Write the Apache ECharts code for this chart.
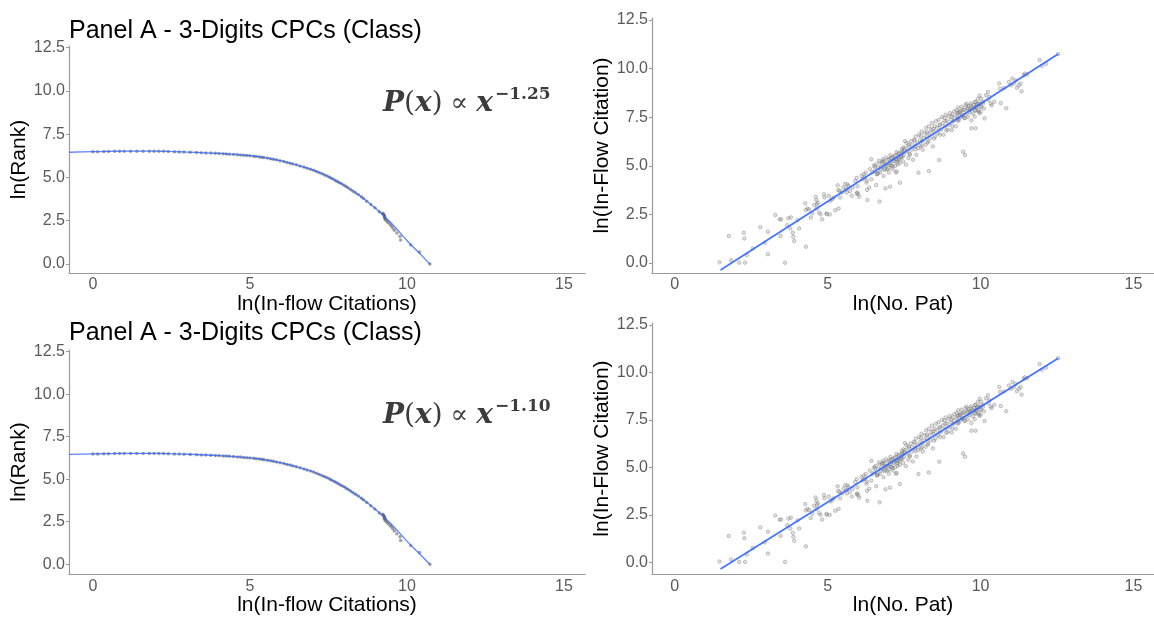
<!DOCTYPE html>
<html>
<head>
<meta charset="utf-8">
<title>Rank-size and in-flow citation panels</title>
<script src="https://cdn.jsdelivr.net/npm/echarts@6.0.0/dist/echarts.min.js"></script>
<style>
  html, body { margin: 0; padding: 0; background: #ffffff; }
  #chart { width: 1154px; height: 617px; }
</style>
</head>
<body>
<div id="chart"></div>
<script>
// ---- tick labels ----
const xTicks = [0, 5, 10, 15];
const yTicks = [0, 2.5, 5, 7.5, 10, 12.5];

// ---- panel titles, axis titles, exponents ----
const panelTitle = 'Panel A - 3-Digits CPCs (Class)';
const rankXTitle = 'ln(In-flow Citations)';
const rankYTitle = 'ln(Rank)';
const patXTitle = 'ln(No. Pat)';
const patYTitle = 'ln(In-Flow Citation)';
const exponents = ['−1.25', '−1.10'];

// ---- rank-size: smoothed fit, ln(in-flow citations) -> ln(rank) ----
const rankFitX = [-0.76, 0, 1, 2, 3, 4, 5, 5.5, 6, 6.5, 7, 7.5, 8, 8.5, 9, 9.5, 10, 10.4, 10.73];
const rankFitY = [6.46, 6.49, 6.52, 6.52, 6.47, 6.39, 6.26, 6.14, 5.96, 5.72, 5.44, 5.05, 4.55, 3.95, 3.22, 2.37, 1.36, 0.62, 0.0];

// ---- rank-size: observed classes [ln(in-flow citations), ln(rank)] ----
const rankPoints = [
  [10.73, 0.00], [10.40, 0.69], [10.12, 1.10], [9.80, 1.39], [9.78, 1.61], [9.68, 1.79],
  [9.60, 1.95], [9.55, 2.08], [9.50, 2.20], [9.46, 2.30], [9.40, 2.40], [9.36, 2.48],
  [9.31, 2.56], [9.30, 2.64], [9.28, 2.71], [9.29, 2.77], [9.27, 2.83], [9.25, 2.89],
  [9.22, 2.94], [9.12, 3.02], [8.98, 3.25], [8.85, 3.44], [8.72, 3.63], [8.62, 3.78],
  [8.55, 3.88], [8.45, 4.01], [8.36, 4.12], [8.28, 4.21], [8.20, 4.31], [8.12, 4.41],
  [8.05, 4.49], [7.98, 4.57], [7.90, 4.65], [7.83, 4.72], [7.76, 4.79], [7.69, 4.86],
  [7.61, 4.94], [7.54, 5.01], [7.46, 5.08], [7.38, 5.14], [7.30, 5.21], [7.21, 5.28],
  [7.12, 5.35], [7.03, 5.42], [6.93, 5.48], [6.82, 5.54], [6.72, 5.60], [6.60, 5.67],
  [6.48, 5.73], [6.37, 5.78], [6.28, 5.83], [6.18, 5.87], [6.08, 5.92], [5.96, 5.97],
  [5.85, 6.02], [5.75, 6.06], [5.66, 6.09], [5.56, 6.12], [5.45, 6.15], [5.38, 6.17],
  [5.30, 6.19], [5.20, 6.21], [5.12, 6.23], [5.00, 6.25], [4.90, 6.27], [4.80, 6.28],
  [4.70, 6.30], [4.60, 6.31], [4.48, 6.33], [4.35, 6.35], [4.25, 6.36], [4.15, 6.37],
  [4.02, 6.39], [3.90, 6.40], [3.76, 6.41], [3.60, 6.42], [3.45, 6.43], [3.30, 6.44],
  [3.10, 6.46], [2.90, 6.47], [2.75, 6.48], [2.60, 6.49], [2.40, 6.50], [2.25, 6.51],
  [2.10, 6.52], [1.95, 6.52], [1.80, 6.52], [1.60, 6.52], [1.40, 6.52], [1.20, 6.52],
  [1.00, 6.52], [0.85, 6.51], [0.69, 6.51], [0.50, 6.50], [0.35, 6.50], [0.15, 6.49],
  [0.00, 6.49]
];

// ---- patents vs in-flow citations: linear fit end points ----
const patFitX = [1.5, 12.54];
const patFitY = [-0.35, 10.75];

// ---- patents vs in-flow citations: classes [ln(no. pat), ln(in-flow citation)] ----
const patentPoints = [
  [1.47, 0.04], [1.77, 1.39], [1.85, 0.15], [2.11, 0.02], [2.30, 0.02], [2.26, 1.56],
  [2.28, 1.27], [2.36, 0.41], [2.55, 0.75], [2.80, 1.84], [2.95, 1.05], [3.05, 1.61],
  [3.05, 0.46], [3.29, 2.47], [3.43, 2.25], [3.48, 2.25], [3.46, 1.39], [3.61, 0.02],
  [3.68, 1.95], [3.72, 2.30], [3.80, 2.35], [3.78, 1.78], [3.86, 1.56], [3.88, 1.35],
  [3.91, 1.13], [4.02, 2.21], [4.07, 1.78], [4.27, 3.07], [4.29, 0.84], [4.29, 2.73],
  [4.34, 2.81], [4.40, 2.76], [4.56, 2.98], [4.61, 3.41], [4.63, 3.24], [4.64, 2.81],
  [4.45, 2.34], [4.50, 2.56], [4.66, 3.03], [4.68, 3.11], [4.72, 2.60], [4.77, 2.50],
  [4.82, 2.25], [4.88, 3.54], [4.90, 3.37], [4.96, 2.55], [4.98, 2.51], [5.04, 3.46],
  [5.07, 2.50], [5.09, 3.20], [5.14, 3.28], [5.20, 3.37], [5.25, 2.72], [5.33, 4.00],
  [5.36, 2.81], [5.39, 3.71], [5.41, 3.37], [5.47, 3.63], [5.52, 3.88], [5.57, 4.06],
  [5.61, 3.80], [5.63, 3.63], [5.68, 3.97], [5.73, 3.71], [5.79, 3.46], [5.82, 3.88],
  [5.90, 4.23], [5.95, 3.58], [5.97, 3.63], [6.00, 3.54], [6.03, 3.41], [6.11, 4.48],
  [6.14, 4.31], [6.18, 4.57], [6.22, 4.40], [6.27, 4.14], [6.29, 3.76], [6.30, 3.24],
  [6.36, 3.88], [6.38, 4.83], [6.43, 5.34], [6.43, 4.31], [6.46, 4.66], [6.51, 5.00],
  [6.54, 4.74], [6.57, 5.08], [6.59, 4.01], [6.61, 4.57], [6.65, 4.91], [6.68, 5.26],
  [6.70, 3.16], [6.72, 4.66], [6.75, 4.83], [6.78, 5.17], [6.81, 5.34], [6.83, 4.48],
  [6.86, 5.00], [6.89, 3.84], [6.91, 5.43], [6.95, 4.83], [6.97, 5.08], [7.00, 4.66],
  [7.02, 5.34], [7.04, 3.93], [7.07, 5.03], [7.11, 5.43], [7.13, 4.83], [7.15, 5.26],
  [7.18, 5.51], [7.21, 5.00], [7.23, 4.66], [7.26, 5.34], [7.29, 5.08], [7.32, 5.60],
  [7.34, 5.34], [7.40, 5.43], [7.43, 5.86], [7.45, 5.68], [7.50, 5.77], [7.53, 6.28],
  [6.65, 4.63], [6.70, 5.14], [6.75, 4.94], [6.81, 5.23], [6.86, 4.80], [6.91, 5.06],
  [6.97, 5.31], [7.00, 4.88], [7.04, 5.14], [7.07, 5.40], [7.13, 4.97], [7.18, 5.23],
  [7.21, 5.52], [7.26, 4.71], [7.29, 5.31], [7.32, 5.66], [7.36, 5.14], [7.40, 5.45],
  [7.43, 5.74], [7.47, 5.23], [7.50, 5.57], [7.54, 5.91], [7.56, 5.06], [7.58, 6.17],
  [7.61, 5.74], [7.64, 5.40], [7.66, 6.00], [7.69, 5.57], [7.72, 6.26], [7.75, 5.83],
  [7.77, 6.08], [7.79, 5.31], [7.82, 6.34], [7.86, 6.00], [7.88, 6.51], [7.90, 5.57],
  [7.93, 6.17], [7.96, 5.91], [7.99, 6.60], [8.02, 6.34], [8.04, 6.00], [8.07, 6.77],
  [8.09, 6.26], [8.11, 5.83], [8.15, 6.43], [8.18, 6.69], [8.20, 6.08], [8.22, 6.94],
  [8.25, 6.51], [8.29, 6.26], [8.31, 7.03], [8.33, 6.69], [8.36, 6.43], [8.39, 6.86],
  [8.41, 7.20], [8.44, 6.00], [8.47, 6.77], [8.50, 7.03], [8.52, 6.51], [8.54, 7.29],
  [8.58, 6.94], [8.61, 6.69], [8.63, 7.37], [8.65, 5.30], [8.68, 7.11], [8.71, 6.86],
  [8.74, 7.51], [8.76, 7.20], [8.79, 6.60], [8.82, 7.46], [8.84, 7.03], [8.86, 7.63],
  [8.90, 7.29], [8.93, 6.86], [8.95, 7.54], [8.97, 7.11], [9.00, 7.71], [9.04, 7.37],
  [9.06, 6.84], [9.08, 7.63], [9.11, 7.29], [9.14, 7.80], [9.16, 7.46], [9.19, 7.03],
  [9.22, 7.86], [9.25, 7.69], [9.27, 8.00], [9.29, 7.35], [9.33, 7.78], [9.36, 7.52],
  [9.38, 8.04], [9.40, 7.61], [9.43, 5.73], [9.46, 7.86], [9.49, 5.56], [9.51, 8.12],
  [9.54, 7.69], [9.57, 7.95], [9.59, 7.52], [9.61, 8.07], [9.65, 7.86], [9.68, 8.21],
  [9.70, 6.93], [9.72, 7.95], [9.75, 7.69], [9.79, 8.12], [9.81, 7.86], [9.81, 7.53],
  [9.83, 8.29], [9.86, 8.00], [9.89, 8.17], [9.91, 7.86], [9.94, 7.78], [9.97, 8.21],
  [9.97, 7.70], [10.00, 7.78], [10.02, 8.04], [10.08, 8.29], [10.11, 7.95],
  [9.22, 7.58], [9.27, 7.41], [9.32, 7.76], [9.38, 7.84], [9.43, 7.58], [9.49, 7.46],
  [9.54, 8.19], [9.59, 7.93], [9.65, 7.76], [9.68, 8.10], [9.70, 7.33], [9.75, 8.01],
  [9.81, 8.27], [9.83, 7.84], [9.86, 8.05], [9.91, 8.44], [9.94, 8.19], [9.97, 8.61],
  [10.00, 8.03], [10.02, 8.46], [10.08, 8.20], [10.13, 7.44], [10.18, 8.63], [10.24, 8.80],
  [10.26, 8.37], [10.29, 8.54], [10.34, 8.20], [10.36, 8.11], [10.45, 8.29], [10.61, 9.23],
  [10.64, 8.97], [10.66, 8.23], [10.77, 9.00], [10.84, 7.96], [10.93, 9.31], [10.99, 9.14],
  [11.04, 9.49], [11.09, 9.23], [11.15, 9.40], [11.19, 9.01], [11.25, 9.14], [11.31, 9.23],
  [11.34, 8.83], [11.41, 9.66], [11.45, 9.74], [11.52, 9.69], [11.93, 10.44], [12.00, 10.14],
  [12.14, 10.24], [12.54, 10.75],
  [7.97, 4.65], [8.31, 4.73], [7.36, 4.13], [9.84, 6.93],
  [6.55, 4.95], [6.62, 4.58], [6.85, 5.22], [6.88, 4.85], [7.05, 5.55], [7.09, 5.02],
  [7.25, 5.70], [7.28, 5.22], [7.45, 5.48], [7.48, 5.95], [7.65, 6.10], [7.68, 5.62],
  [7.85, 6.30], [7.87, 5.85], [8.05, 6.55], [8.08, 6.05], [8.25, 6.72], [8.27, 6.20],
  [8.45, 6.90], [8.48, 6.40], [8.65, 7.08], [8.67, 6.60], [8.85, 7.30], [8.88, 6.82],
  [9.05, 7.52], [9.08, 7.05], [9.25, 7.30], [9.27, 7.72], [9.45, 7.90], [9.47, 7.45],
  [6.25, 4.65], [6.28, 4.25], [5.95, 4.38], [5.98, 3.95], [5.65, 4.05], [5.35, 3.75]
];

const zip = (xs, ys) => xs.map((x, i) => [x, ys[i]]);

const FONT = "'Liberation Sans', Arial, sans-serif";
const AXIS_GREY = '#9a9a9a';
const LABEL_GREY = '#5a5a5a';
const FIT_BLUE = '#3366FF';

// plot areas: rank panels on the left, patent panels on the right
const grids = [
  { left: 69, top: 46, width: 516, height: 227 },
  { left: 652, top: 18, width: 510, height: 255 },
  { left: 69, top: 350, width: 516, height: 227 },
  { left: 652, top: 323, width: 510, height: 254 }
];
const xRanges = [[-0.76, 15.67], [-0.74, 15.67], [-0.76, 15.67], [-0.74, 15.67]];
const yRanges = [[-0.52, 12.6], [-0.51, 12.6], [-0.58, 12.6], [-0.62, 12.6]];
const xNames = [rankXTitle, patXTitle, rankXTitle, patXTitle];
const yNames = [rankYTitle, patYTitle, rankYTitle, patYTitle];
const xNameGaps = [14, 17, 17, 17];
const yNameGaps = [34, 38, 34, 38];

const xAxes = grids.map((g, i) => ({
  type: 'value', gridIndex: i, min: xRanges[i][0], max: xRanges[i][1],
  splitLine: { show: false },
  axisLine: { show: true, onZero: false, lineStyle: { color: AXIS_GREY, width: 1.2 } },
  axisTick: { show: false },
  axisLabel: { customValues: xTicks, color: LABEL_GREY, fontSize: 16, fontFamily: FONT, margin: 4 },
  name: xNames[i], nameLocation: 'middle', nameGap: xNameGaps[i],
  nameTextStyle: { color: '#000', fontSize: 21, fontFamily: FONT }
}));

const yAxes = grids.map((g, i) => ({
  type: 'value', gridIndex: i, min: yRanges[i][0], max: yRanges[i][1],
  splitLine: { show: false },
  axisLine: { show: true, onZero: false, lineStyle: { color: AXIS_GREY, width: 1.2 } },
  axisTick: { show: true, customValues: yTicks, length: 3, lineStyle: { color: AXIS_GREY } },
  axisLabel: {
    customValues: yTicks, color: LABEL_GREY, fontSize: 16, fontFamily: FONT, margin: 4,
    formatter: v => Number(v).toFixed(1)
  },
  name: yNames[i], nameLocation: 'middle', nameGap: yNameGaps[i], nameRotate: 90,
  nameTextStyle: { color: '#000', fontSize: 21, fontFamily: FONT }
}));

const rankPointSeries = idx => ({
  type: 'scatter', xAxisIndex: idx, yAxisIndex: idx, data: rankPoints,
  symbolSize: 3.5, itemStyle: { color: 'rgba(60,60,60,0.6)' }, silent: true
});
const rankFitSeries = idx => ({
  type: 'line', xAxisIndex: idx, yAxisIndex: idx, data: zip(rankFitX, rankFitY),
  smooth: 0.3, showSymbol: false, lineStyle: { color: FIT_BLUE, width: 1.3, opacity: 0.8 }, silent: true
});
const patPointSeries = idx => ({
  type: 'scatter', xAxisIndex: idx, yAxisIndex: idx, data: patentPoints,
  symbolSize: 3.5,
  itemStyle: { color: 'rgba(150,150,150,0.35)', borderColor: 'rgba(95,95,95,0.6)', borderWidth: 0.7 },
  silent: true
});
const patFitSeries = idx => ({
  type: 'line', xAxisIndex: idx, yAxisIndex: idx, data: zip(patFitX, patFitY),
  showSymbol: false, lineStyle: { color: FIT_BLUE, width: 1.8, opacity: 0.9 }, silent: true
});

// power-law annotation: P(x) ∝ x^exponent
const SERIF = "'DejaVu Serif', serif";
const INK = '#3c3c3c';
const formula = (y, exponent) => ({
  type: 'text', x: 383, y: y, z: 10,
  style: {
    text: '{i|P}{n|(}{i|x}{n|)}{o|∝}{i|x}{s|' + exponent + '}',
    verticalAlign: 'middle',
    rich: {
      i: { fontFamily: SERIF, fontStyle: 'italic', fontWeight: 'bold', fontSize: 28, fill: INK, color: INK, lineHeight: 36 },
      n: { fontFamily: SERIF, fontWeight: 'normal', fontSize: 28, fill: INK, color: INK, lineHeight: 36 },
      o: { fontFamily: SERIF, fontWeight: 'normal', fontSize: 26, fill: INK, color: INK, lineHeight: 36, padding: [0, 8, 0, 8] },
      s: { fontFamily: SERIF, fontWeight: 'bold', fontSize: 17, fill: INK, color: INK, lineHeight: 20, verticalAlign: 'top', padding: [0, 0, 0, 2] }
    }
  }
});

const chart = echarts.init(document.getElementById('chart'), null, { renderer: 'canvas' });
chart.setOption({
  animation: false,
  backgroundColor: '#ffffff',
  title: [
    { text: panelTitle, left: 69, top: 19, padding: 0, textStyle: { fontSize: 25, fontWeight: 'normal', color: '#000', fontFamily: FONT } },
    { text: panelTitle, left: 69, top: 321, padding: 0, textStyle: { fontSize: 25, fontWeight: 'normal', color: '#000', fontFamily: FONT } }
  ],
  grid: grids,
  xAxis: xAxes,
  yAxis: yAxes,
  series: [
    rankPointSeries(0), rankFitSeries(0),
    patPointSeries(1), patFitSeries(1),
    rankPointSeries(2), rankFitSeries(2),
    patPointSeries(3), patFitSeries(3)
  ],
  graphic: [formula(104, exponents[0]), formula(416, exponents[1])]
});
</script>
</body>
</html>
